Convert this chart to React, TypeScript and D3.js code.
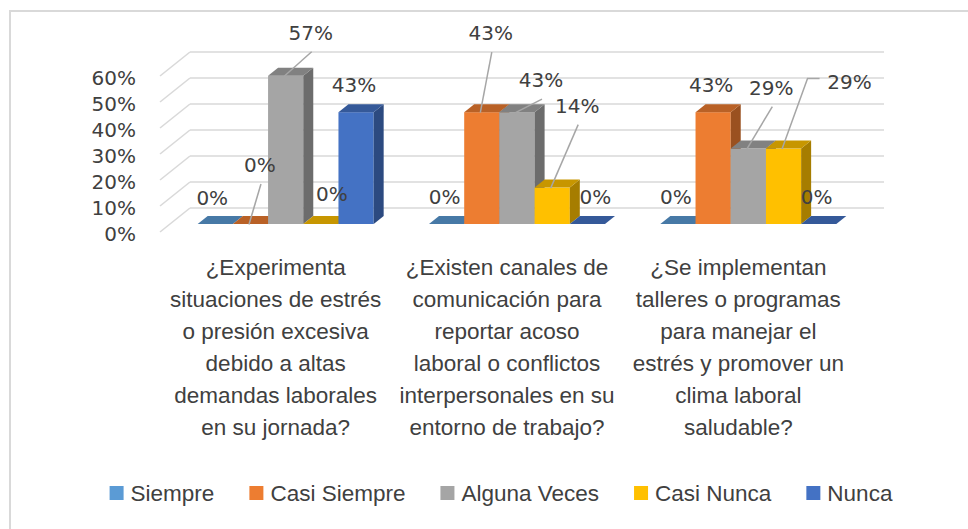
import * as d3 from "d3";
import { useEffect, useRef } from "react";

// categorías (ya partidas en líneas como en el gráfico)
const categories = [
  ["¿Experimenta", "situaciones de estrés", "o presión excesiva", "debido a altas", "demandas laborales", "en su jornada?"],
  ["¿Existen canales de", "comunicación para", "reportar acoso", "laboral o conflictos", "interpersonales en su", "entorno de trabajo?"],
  ["¿Se implementan", "talleres o programas", "para manejar el", "estrés y promover un", "clima laboral", "saludable?"],
];

const seriesNames = ["Siempre", "Casi Siempre", "Alguna Veces", "Casi Nunca", "Nunca"];
const siempre = [0, 0, 0];
const casiSiempre = [0, 0.43, 0.43];
const algunaVeces = [0.57, 0.43, 0.29];
const casiNunca = [0, 0.14, 0.29];
const nunca = [0.43, 0, 0];
const yTicks = [0, 0.1, 0.2, 0.3, 0.4, 0.5, 0.6];

const colors = ["#5B9BD5", "#ED7D31", "#A5A5A5", "#FFC000", "#4472C4"];

// etiquetas movidas a mano (offset respecto al centro superior de la barra)
const labelMoves: Record<string, { dx: number; dy: number; leader?: "line" | "elbow" }> = {
  "0-0": { dx: -3, dy: -26 },
  "1-0": { dx: 9.5, dy: -59, leader: "line" },
  "2-0": { dx: 25, dy: -43, leader: "line" },
  "3-0": { dx: 11, dy: -30 },
  "1-1": { dx: 9, dy: -79, leader: "line" },
  "2-1": { dx: 24, dy: -32, leader: "line" },
  "3-1": { dx: 25, dy: -82, leader: "line" },
  "4-1": { dx: 8, dy: -27 },
  "2-2": { dx: 23, dy: -61, leader: "line" },
  "3-2": { dx: 66, dy: -67, leader: "elbow" },
};

export default function App() {
  const ref = useRef<SVGSVGElement | null>(null);
  const width = 968;
  const height = 529;

  useEffect(() => {
    const svg = d3.select(ref.current);
    svg.selectAll("*").remove();

    const values = [siempre, casiSiempre, algunaVeces, casiNunca, nunca];
    const depth = { x: 30, y: -24 }; // profundidad del suelo
    const off = { x: depth.x / 3, y: depth.y / 3 };

    const x = d3.scaleBand<number>().domain([0, 1, 2]).range([160, 854]);
    const xInner = d3
      .scaleBand<string>()
      .domain(seriesNames)
      .range([0, x.bandwidth()])
      .paddingOuter(0.786);
    const y = d3.scaleLinear().domain([0, 0.6]).range([232, 76]);
    const bw = xInner.bandwidth();

    // marco
    svg
      .append("rect")
      .attr("x", 10)
      .attr("y", 11)
      .attr("width", 1000)
      .attr("height", 600)
      .attr("fill", "white")
      .attr("stroke", "#d9d9d9")
      .attr("stroke-width", 2);

    // pared del fondo + lateral
    const grid = svg.append("g").attr("stroke", "#d9d9d9").attr("stroke-width", 1.6).attr("fill", "none");
    grid
      .selectAll("line.back")
      .data(yTicks)
      .join("line")
      .attr("x1", 160 + depth.x)
      .attr("x2", 854 + depth.x)
      .attr("y1", (d) => y(d) + depth.y)
      .attr("y2", (d) => y(d) + depth.y);
    grid
      .selectAll("line.side")
      .data(yTicks)
      .join("line")
      .attr("class", "side")
      .attr("x1", 160)
      .attr("x2", 160 + depth.x)
      .attr("y1", (d) => y(d))
      .attr("y2", (d) => y(d) + depth.y);

    // eje y
    svg
      .append("g")
      .selectAll("text")
      .data(yTicks)
      .join("text")
      .attr("x", 136)
      .attr("y", (d) => y(d) + 2)
      .attr("dy", "0.35em")
      .attr("text-anchor", "end")
      .attr("fill", "#404040")
      .style("font-family", "'DejaVu Sans', sans-serif")
      .style("font-size", "20px")
      .text((d) => d3.format(".0%")(d));

    // barras 3D
    const base = y(0) + off.y;
    const bars: { g: number; s: number; v: number; x0: number; top: number }[] = [];
    categories.forEach((_, g) => {
      seriesNames.forEach((name, s) => {
        const v = values[s][g];
        const x0 = (x(g) ?? 0) + (xInner(name) ?? 0) + off.x;
        const top = base - (y(0) - y(v));
        bars.push({ g, s, v, x0, top });
      });
    });

    const barG = svg.append("g");
    bars.forEach((b) => {
      const c = colors[b.s];
      const gEl = barG.append("g");
      if (b.v > 0) {
        gEl
          .append("rect")
          .attr("x", b.x0)
          .attr("y", b.top)
          .attr("width", bw)
          .attr("height", base - b.top)
          .attr("fill", c);
        gEl
          .append("polygon")
          .attr(
            "points",
            [
              [b.x0 + bw, b.top],
              [b.x0 + bw, base],
              [b.x0 + bw + off.x, base + off.y],
              [b.x0 + bw + off.x, b.top + off.y],
            ].join(" ")
          )
          .attr("fill", d3.color(c)!.darker(1.2).formatHex());
      }
      gEl
        .append("polygon")
        .attr(
          "points",
          [
            [b.x0, b.top],
            [b.x0 + bw, b.top],
            [b.x0 + bw + off.x, b.top + off.y],
            [b.x0 + off.x, b.top + off.y],
          ].join(" ")
        )
        .attr("fill", d3.color(c)!.darker(0.7).formatHex());
    });

    // etiquetas de datos
    const lab = svg.append("g");
    bars.forEach((b) => {
      const cx = b.x0 + bw / 2;
      const m = labelMoves[`${b.s}-${b.g}`] ?? { dx: -2, dy: -27 };
      const lx = cx + m.dx;
      const ly = b.top + m.dy;
      if (m.leader === "line") {
        lab
          .append("line")
          .attr("x1", lx + 1)
          .attr("y1", ly + 19)
          .attr("x2", cx - 1.5)
          .attr("y2", b.top + 0.5)
          .attr("stroke", "#a6a6a6")
          .attr("stroke-width", 1.5);
      } else if (m.leader === "elbow") {
        lab
          .append("polyline")
          .attr(
            "points",
            [
              [lx - 30, ly - 3],
              [lx - 42, ly - 3],
              [cx - 1.5, b.top + 0.5],
            ].join(" ")
          )
          .attr("fill", "none")
          .attr("stroke", "#a6a6a6")
          .attr("stroke-width", 1.5);
      }
      lab
        .append("text")
        .attr("x", lx)
        .attr("y", ly)
        .attr("dy", "0.35em")
        .attr("text-anchor", "middle")
        .attr("fill", "#404040")
        .style("font-family", "'DejaVu Sans', sans-serif")
        .style("font-size", "20px")
        .text(d3.format(".0%")(b.v));
    });

    // categorías
    const cat = svg
      .append("g")
      .attr("fill", "#404040")
      .style("font-family", "'Liberation Sans', Arial, sans-serif")
      .style("font-size", "22.5px")
      .attr("text-anchor", "middle");
    categories.forEach((lines, g) => {
      const t = cat
        .append("text")
        .attr("x", (x(g) ?? 0) + x.bandwidth() / 2)
        .attr("y", 267)
        .attr("dy", "0.35em");
      lines.forEach((ln, i) => {
        t.append("tspan")
          .attr("x", (x(g) ?? 0) + x.bandwidth() / 2)
          .attr("dy", i === 0 ? "0.35em" : 32)
          .text(ln);
      });
    });

    // leyenda
    const leg = svg
      .append("g")
      .style("font-family", "'Liberation Sans', Arial, sans-serif")
      .style("font-size", "22.5px");
    const items = seriesNames.map((name, i) => {
      const it = leg.append("g");
      it.append("rect").attr("width", 14).attr("height", 14).attr("y", -7).attr("fill", colors[i]);
      const tx = it
        .append("text")
        .attr("x", 21)
        .attr("dy", "0.35em")
        .attr("fill", "#404040")
        .text(name);
      const w = (tx.node() as SVGTextElement).getComputedTextLength();
      return { it, w: 21 + w };
    });
    const gap = 35;
    const total = d3.sum(items, (d) => d.w) + gap * (items.length - 1);
    let cursor = 501 - total / 2;
    items.forEach((d) => {
      d.it.attr("transform", `translate(${cursor},493)`);
      cursor += d.w + gap;
    });
  }, []);

  return (
    <svg
      ref={ref}
      width={width}
      height={height}
      style={{ position: "absolute", left: 0, top: 0, display: "block", background: "white" }}
    />
  );
}
